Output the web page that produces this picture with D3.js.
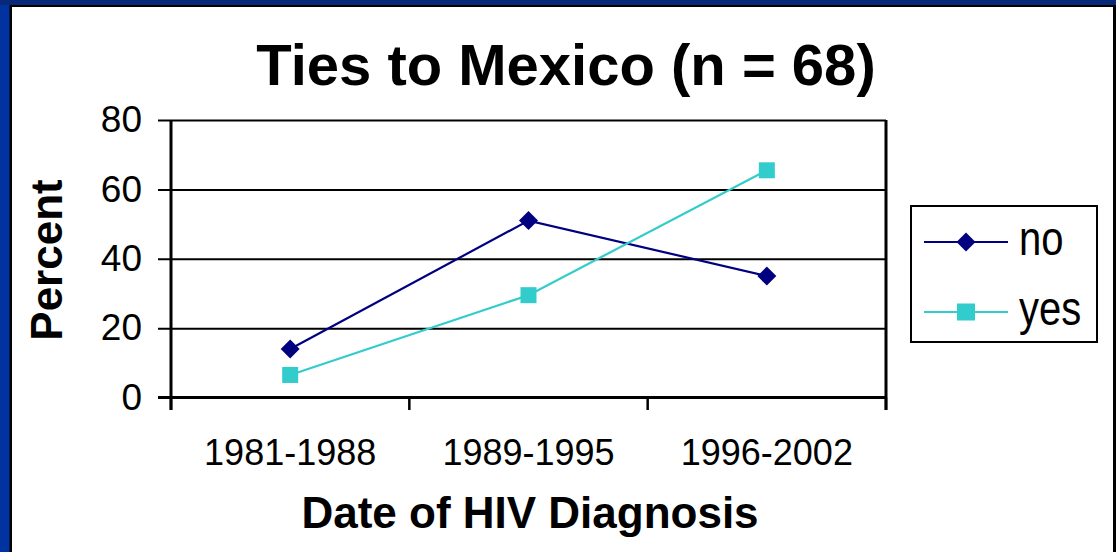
<!DOCTYPE html>
<html>
<head>
<meta charset="utf-8">
<script src="https://cdn.jsdelivr.net/npm/d3@7"></script>
<style>
  body { margin: 0; background: #fff; }
  text { font-family: "Liberation Sans", Arial, sans-serif; fill: #000; }
</style>
</head>
<body>
<div id="chart"></div>
<script>
const categories = ["1981-1988", "1989-1995", "1996-2002"]
const noValues = [14, 51, 35]
const yesValues = [6.5, 29.5, 65.5]
const yTicks = [0, 20, 40, 60, 80]
const seriesNames = ["no", "yes"]
const seriesColors = ["#000080", "#33CCCC"]

const W = 1116, H = 552
const PLOT = {LEFT: 171, RIGHT: 886, TOP: 120, BOTTOM: 397.5}

const svg = d3.select("#chart").append("svg")
    .attr("width", W)
    .attr("height", H)

// slide frame
svg.append("rect").attr("width", W).attr("height", H).attr("fill", "#0033A0")
svg.append("rect").attr("width", W).attr("height", 5).attr("fill", "#08287A")
svg.append("rect").attr("x", 9.5).attr("y", 5).attr("width", W).attr("height", H).attr("fill", "#000")
svg.append("rect").attr("x", 12).attr("y", 7).attr("width", 1101).attr("height", H).attr("fill", "#fff")

const x = d3.scaleBand()
    .domain(categories)
    .range([PLOT.LEFT, PLOT.RIGHT])

const y = d3.scaleLinear()
    .domain([0, 80])
    .range([PLOT.BOTTOM, PLOT.TOP])

// gridlines + y tick labels
const yAxis = d3.axisLeft(y)
    .tickValues(yTicks)
    .tickSize(PLOT.RIGHT - PLOT.LEFT + 13)
    .tickPadding(16)
svg.append("g")
    .attr("transform", `translate(${PLOT.RIGHT},0)`)
    .call(yAxis)
    .call(g => g.select(".domain").remove())
    .call(g => g.selectAll("line").attr("stroke", "#000").attr("stroke-width", 2))
    .call(g => g.selectAll("text").style("font-size", "37px").attr("font-family", null))

// left axis and right border
svg.append("line")
    .attr("x1", PLOT.LEFT).attr("x2", PLOT.LEFT)
    .attr("y1", PLOT.TOP).attr("y2", PLOT.BOTTOM + 12.5)
    .attr("stroke", "#000").attr("stroke-width", 3)
svg.append("line")
    .attr("x1", PLOT.RIGHT).attr("x2", PLOT.RIGHT)
    .attr("y1", PLOT.TOP).attr("y2", PLOT.BOTTOM + 12.5)
    .attr("stroke", "#000").attr("stroke-width", 3)
svg.append("line")
    .attr("x1", PLOT.LEFT - 13).attr("x2", PLOT.RIGHT)
    .attr("y1", y(0)).attr("y2", y(0))
    .attr("stroke", "#000").attr("stroke-width", 3)

// category boundary ticks
const bounds = categories.map(c => x(c)).concat([x.range()[1]])
svg.append("g").selectAll("line")
    .data(bounds)
    .enter().append("line")
    .attr("x1", d => d).attr("x2", d => d)
    .attr("y1", PLOT.BOTTOM).attr("y2", PLOT.BOTTOM + 12.5)
    .attr("stroke", "#000").attr("stroke-width", 2.5)

// category labels
const xAxis = d3.axisBottom(x).tickSize(0).tickPadding(42)
svg.append("g")
    .attr("transform", `translate(0,${PLOT.BOTTOM})`)
    .call(xAxis)
    .call(g => g.select(".domain").remove())
    .call(g => g.selectAll("text").style("font-size", "36px").attr("font-family", null))

// series
const cx = c => x(c) + x.bandwidth() / 2
const series = [noValues, yesValues]
const line = d3.line().x((d, i) => cx(categories[i])).y(d => y(d))

series.forEach((vals, s) => {
    svg.append("path")
        .datum(vals)
        .attr("d", line)
        .attr("fill", "none")
        .attr("stroke", seriesColors[s])
        .attr("stroke-width", 2.2)
})

const diamond = d3.symbol().type(d3.symbolSquare).size(180)
svg.append("g").selectAll("path")
    .data(noValues)
    .enter().append("path")
    .attr("d", diamond)
    .attr("transform", (d, i) => `translate(${cx(categories[i])},${y(d)}) rotate(45)`)
    .attr("fill", seriesColors[0])

svg.append("g").selectAll("rect")
    .data(yesValues)
    .enter().append("rect")
    .attr("x", (d, i) => cx(categories[i]) - 8)
    .attr("y", d => y(d) - 8)
    .attr("width", 16).attr("height", 16)
    .attr("fill", seriesColors[1])

// title and axis titles
svg.append("text")
    .attr("x", 566).attr("y", 85)
    .attr("text-anchor", "middle")
    .style("font-size", "58px").style("font-weight", "bold")
    .text("Ties to Mexico (n = 68)")

svg.append("text")
    .attr("x", 530).attr("y", 528)
    .attr("text-anchor", "middle")
    .style("font-size", "44px").style("font-weight", "bold")
    .text("Date of HIV Diagnosis")

svg.append("text")
    .attr("transform", "translate(62,260) rotate(-90)")
    .attr("text-anchor", "middle")
    .style("font-size", "44px").style("font-weight", "bold")
    .text("Percent")

// legend
const legend = svg.append("g")
legend.append("rect")
    .attr("x", 911).attr("y", 206).attr("width", 186).attr("height", 136)
    .attr("fill", "#fff").attr("stroke", "#000").attr("stroke-width", 2)

const legY = [242, 312]
seriesNames.forEach((name, i) => {
    legend.append("line")
        .attr("x1", 924).attr("x2", 1008)
        .attr("y1", legY[i]).attr("y2", legY[i])
        .attr("stroke", seriesColors[i]).attr("stroke-width", 2.2)
    if (i === 0) {
        legend.append("path")
            .attr("d", diamond)
            .attr("transform", `translate(966,${legY[i]}) rotate(45)`)
            .attr("fill", seriesColors[i])
    } else {
        legend.append("rect")
            .attr("x", 957).attr("y", legY[i] - 8.5)
            .attr("width", 18).attr("height", 17)
            .attr("fill", seriesColors[i])
    }
    legend.append("text")
        .attr("transform", `translate(1019,${legY[i] + 13}) scale(1,1.2)`)
        .style("font-size", "40px")
        .text(name)
})
</script>
</body>
</html>
